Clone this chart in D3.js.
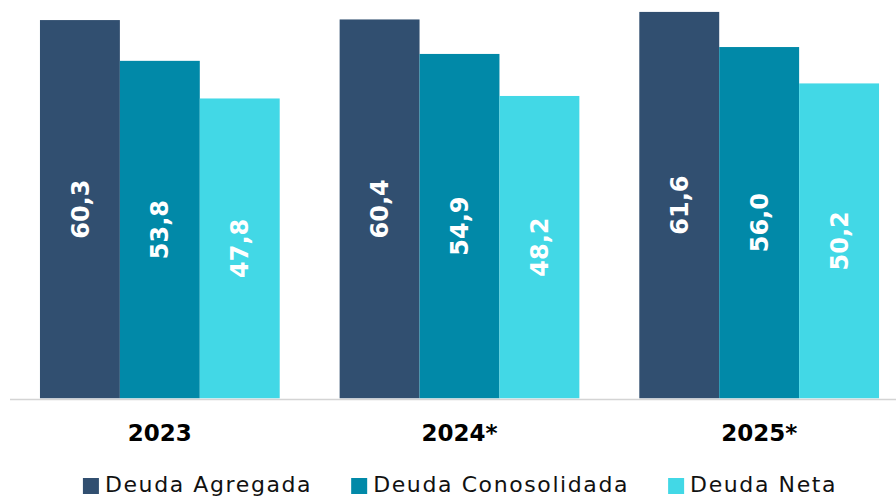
<!DOCTYPE html>
<html>
<head>
<meta charset="utf-8">
<script src="https://cdn.jsdelivr.net/npm/d3@7"></script>
<style>
  body { margin: 0; background: #fff; }
  svg { display: block; font-family: "DejaVu Sans", Verdana, sans-serif; }
</style>
</head>
<body>
<div id="chart"></div>
<script>
const years = ["2023", "2024*", "2025*"]
const seriesNames = ["Deuda Agregada", "Deuda Conosolidada", "Deuda Neta"]
const agregada = [60.3, 60.4, 61.6]
const consolidada = [53.8, 54.9, 56.0]
const neta = [47.8, 48.2, 50.2]
const colors = ["#314f70", "#0189a8", "#42d8e6"]

const svgWidth = 896
const svgHeight = 496
const baseline = 398.3

// build rows for the grouped bars
const seriesValues = [agregada, consolidada, neta]
const rows = years.map((y, i) => ({
  year: y,
  values: seriesNames.map((s, j) => ({ key: s, value: seriesValues[j][i] }))
}))

const fmt = d3.formatLocale({ decimal: ",", thousands: ".", grouping: [3], currency: ["", ""] }).format(".1f")

let svg = d3.select("#chart")
  .append("svg")
  .attr("width", svgWidth)
  .attr("height", svgHeight)

var x0 = d3.scaleBand()
  .domain(years)
  .range([10, 909])
  .paddingInner(0.2)
  .paddingOuter(0.1)

var x1 = d3.scaleBand()
  .domain(seriesNames)
  .range([0, x0.bandwidth()])

var y = d3.scaleLinear()
  .domain([0, 63.5])
  .range([baseline, 0])

var color = d3.scaleOrdinal().domain(seriesNames).range(colors)

// bars
let groups = svg.selectAll("g.group")
  .data(rows)
  .enter()
  .append("g")
  .attr("class", "group")
  .attr("transform", d => "translate(" + x0(d.year) + ",0)")

groups.selectAll("rect")
  .data(d => d.values)
  .enter()
  .append("rect")
  .attr("x", d => x1(d.key))
  .attr("y", d => y(d.value))
  .attr("width", x1.bandwidth())
  .attr("height", d => baseline - y(d.value))
  .attr("fill", d => color(d.key))

// value labels, rotated inside bars
groups.selectAll("text")
  .data(d => d.values)
  .enter()
  .append("text")
  .attr("transform", d => {
    let cx = x1(d.key) + x1.bandwidth() / 2
    let cy = (y(d.value) + baseline) / 2
    return "translate(" + cx + "," + cy + ") rotate(-90)"
  })
  .attr("text-anchor", "middle")
  .attr("dy", "0.36em")
  .attr("fill", "#fff")
  .attr("font-size", "24px")
  .attr("font-weight", "bold")
  .text(d => fmt(d.value))

// x axis
var xAxis = d3.axisBottom(x0).tickSize(0).tickPadding(0)
let axisG = svg.append("g")
  .attr("transform", "translate(0," + 399.5 + ")")
  .call(xAxis)
axisG.select(".domain").remove()
axisG.selectAll("text")
  .attr("y", 41.5)
  .attr("dy", 0)
  .attr("fill", "#000")
  .attr("font-size", "23px")
  .attr("font-weight", "bold")
  .attr("font-family", "DejaVu Sans, Verdana, sans-serif")

svg.append("line")
  .attr("x1", 10)
  .attr("x2", svgWidth)
  .attr("y1", 399.5)
  .attr("y2", 399.5)
  .attr("stroke", "#d4d4d4")
  .attr("stroke-width", 1.5)

// legend
let legend = svg.append("g").attr("class", "legend")
let items = legend.selectAll("g")
  .data(seriesNames)
  .enter()
  .append("g")
items.append("rect")
  .attr("x", 0)
  .attr("y", 478)
  .attr("width", 16)
  .attr("height", 16)
  .attr("fill", d => color(d))
items.append("text")
  .attr("x", 22)
  .attr("y", 492)
  .attr("font-size", "22px")
  .attr("letter-spacing", "1.6px")
  .attr("fill", "#111")
  .text(d => d)

let offset = 0
let widths = []
items.each(function () {
  widths.push(this.getBBox().width)
})
let gap = 39
let total = d3.sum(widths) + gap * (widths.length - 1)
let start = 460 - total / 2
items.attr("transform", (d, i) => {
  let t = "translate(" + (start + offset) + ",0)"
  offset += widths[i] + gap
  return t
})
</script>
</body>
</html>
